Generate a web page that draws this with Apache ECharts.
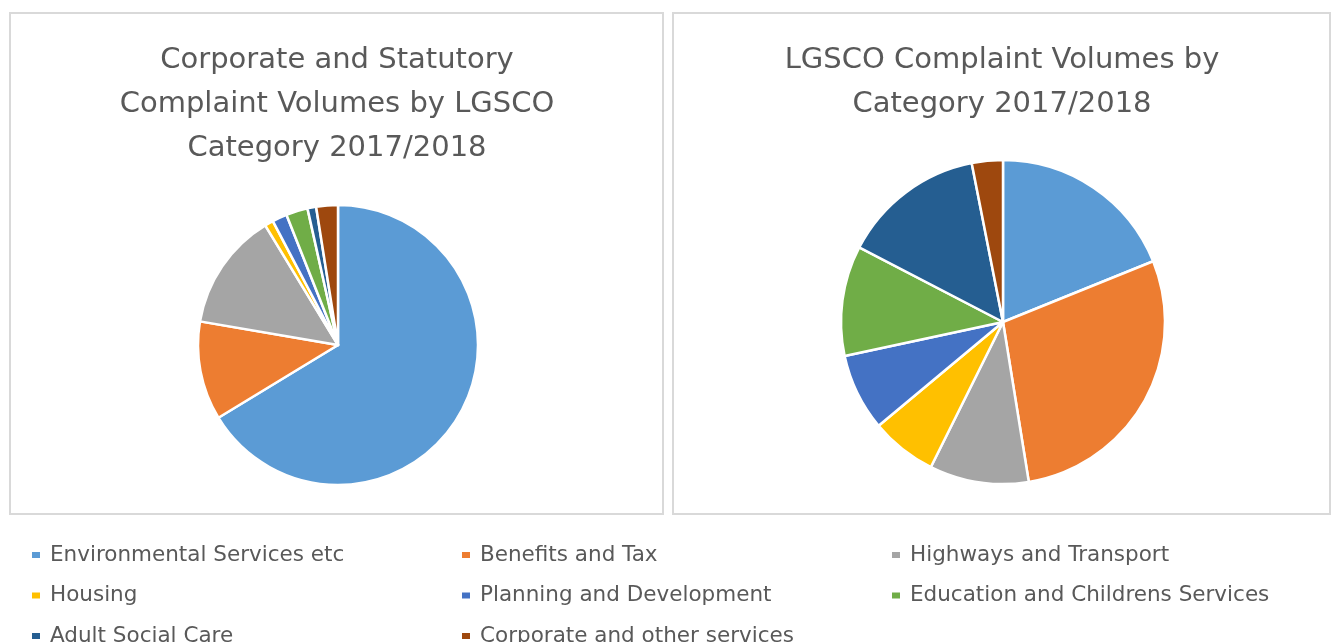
<!DOCTYPE html>
<html>
<head>
<meta charset="utf-8">
<script src="https://cdn.jsdelivr.net/npm/echarts@6/dist/echarts.min.js"></script>
<style>
  html, body { margin: 0; padding: 0; background: #fff; }
  #main { width: 1333px; height: 642px; }
</style>
</head>
<body>
<div id="main"></div>
<script>
var categories = ['Environmental Services etc', 'Benefits and Tax', 'Highways and Transport',
  'Housing', 'Planning and Development', 'Education and Childrens Services',
  'Adult Social Care', 'Corporate and other services'];
var colors = ['#5B9BD5', '#ED7D31', '#A5A5A5', '#FFC000', '#4472C4', '#70AD47', '#255E91', '#9E480E'];
// shares (percent)
var corporateValues = [66.3, 11.4, 13.6, 1.0, 1.7, 2.5, 1.0, 2.5];
var lgscoValues = [18.9, 28.6, 9.9, 6.6, 7.7, 11.0, 14.3, 3.1];

var leftTitle = 'Corporate and Statutory\nComplaint Volumes by LGSCO\nCategory 2017/2018';
var rightTitle = 'LGSCO Complaint Volumes by\nCategory 2017/2018';

function toData(vals) {
  return categories.map(function (c, i) { return { name: c, value: vals[i] }; });
}

var txtColor = '#595959';
var fnt = 'DejaVu Sans';

function legendCol(left, names) {
  return {
    orient: 'vertical',
    left: left,
    top: 544,
    height: 200,
    data: names,
    icon: 'rect',
    itemWidth: 10,
    itemHeight: 8,
    itemGap: 18.5,
    padding: 0,
    selectedMode: false,
    textStyle: { color: txtColor, fontSize: 21.5, fontFamily: fnt, lineHeight: 20, padding: [0, 0, 0, 4] }
  };
}

var chart = echarts.init(document.getElementById('main'));
var option = {
  animation: false,
  color: colors,
  title: [
    { text: leftTitle, left: 337, top: 38, textAlign: 'center', padding: 0,
      textStyle: { color: txtColor, fontSize: 29, fontWeight: 'normal', fontFamily: fnt, lineHeight: 44 } },
    { text: rightTitle, left: 1002, top: 38, textAlign: 'center', padding: 0,
      textStyle: { color: txtColor, fontSize: 29, fontWeight: 'normal', fontFamily: fnt, lineHeight: 44 } }
  ],
  legend: [
    legendCol(30, [categories[0], categories[3], categories[6]]),
    legendCol(460, [categories[1], categories[4], categories[7]]),
    legendCol(890, [categories[2], categories[5]])
  ],
  graphic: [
    { type: 'rect', shape: { x: 10, y: 13, width: 653, height: 501 },
      style: { fill: 'none', stroke: '#d9d9d9', lineWidth: 2 } },
    { type: 'rect', shape: { x: 673, y: 13, width: 657, height: 501 },
      style: { fill: 'none', stroke: '#d9d9d9', lineWidth: 2 } }
  ],
  series: [
    {
      type: 'pie', center: [338, 345], radius: 140, startAngle: 90,
      label: { show: false }, labelLine: { show: false },
      itemStyle: { borderColor: '#fff', borderWidth: 2.5 },
      emphasis: { disabled: true },
      data: toData(corporateValues)
    },
    {
      type: 'pie', center: [1003, 322], radius: 162, startAngle: 90,
      label: { show: false }, labelLine: { show: false },
      itemStyle: { borderColor: '#fff', borderWidth: 2.5 },
      emphasis: { disabled: true },
      data: toData(lgscoValues)
    }
  ]
};
chart.setOption(option);
</script>
</body>
</html>
